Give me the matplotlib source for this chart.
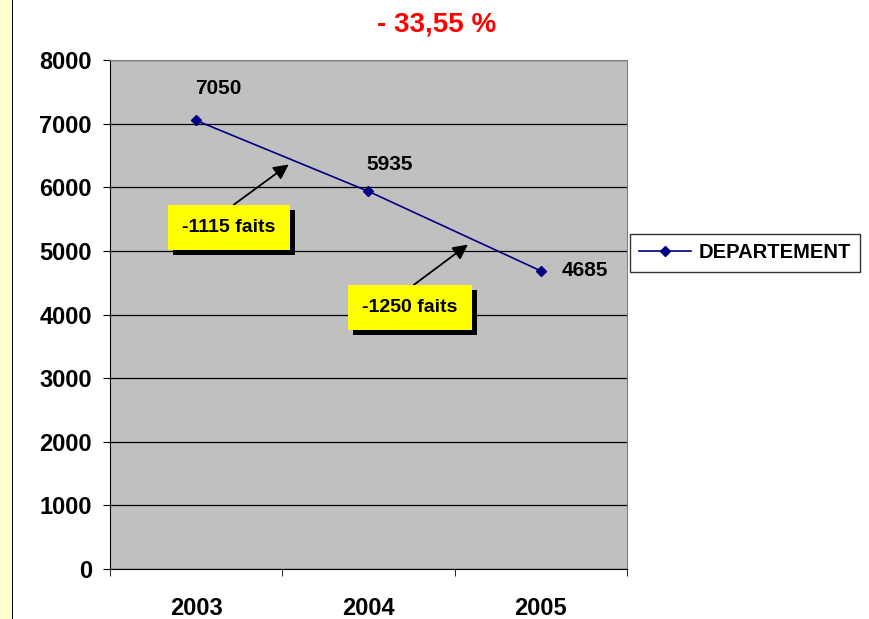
import matplotlib
matplotlib.use("Agg")
import matplotlib.pyplot as plt
import matplotlib.patheffects as pe
from matplotlib.patches import Rectangle

plt.rcParams['font.family'] = ['Liberation Sans', 'DejaVu Sans']

# data
years = ["2003", "2004", "2005"]
faits = [7050, 5935, 4685]
series_name = "DEPARTEMENT"
title = "- 33,55 %"
diff_labels = ["-1115 faits", "-1250 faits"]

fig = plt.figure(figsize=(8.7, 6.19), dpi=100)
ax = fig.add_axes([110/870, 50/619, 517/870, 509/619])
ax.set_facecolor("#C0C0C0")

# yellow strip on the left
fig.patches.append(Rectangle((0, 0), 12/870, 1, transform=fig.transFigure,
                             facecolor="#FFFFD0", edgecolor="none"))
fig.patches.append(Rectangle((12/870, 0), 1.5/870, 1, transform=fig.transFigure,
                             facecolor="black", edgecolor="none"))

x = list(range(len(years)))
ax.plot(x, faits, color="#000080", lw=1.2, marker="D", ms=5.5,
        markerfacecolor="#000080", markeredgecolor="#000080", label=series_name)

ax.set_xlim(-0.5, len(years) - 0.5)
ax.set_ylim(0, 8000)
ax.set_yticks(range(0, 8001, 1000))
ax.yaxis.grid(True, color="black", lw=0.9)
ax.set_axisbelow(True)

ax.set_xticks(x)
ax.set_xticklabels(years)
ax.set_xticks([i - 0.5 for i in range(len(years) + 1)], minor=True)
ax.tick_params(axis="x", which="major", length=0, pad=20, labelsize=17)
ax.tick_params(axis="x", which="minor", length=5, direction="out", color="black")
ax.tick_params(axis="y", length=5, direction="out", pad=8, labelsize=17)
for lab in ax.get_xticklabels() + ax.get_yticklabels():
    lab.set_fontweight("bold")

for side in ["top", "right"]:
    ax.spines[side].set_color("#808080")
for side in ["left", "bottom"]:
    ax.spines[side].set_color("black")

# value labels
offsets = [(16, 23), (15, 19), (32, 0)]
for xi, v, off in zip(x, faits, offsets):
    ax.annotate(str(v), (xi, v), xytext=off, textcoords="offset points",
                ha="center", va="center", fontsize=15, fontweight="bold")

# difference boxes with arrows
box_pos = [(0.19, 5369), (1.24, 4112)]
arrow_from = [(0.205, 5700), (1.25, 4440)]
arrow_to = [(0.55, 6384), (1.59, 5126)]
for lab, bp, af, at in zip(diff_labels, box_pos, arrow_from, arrow_to):
    ax.annotate("", xy=at, xytext=af,
                arrowprops=dict(arrowstyle="-|>,head_length=0.9,head_width=0.45",
                                color="black", lw=1.3))
    t = ax.text(bp[0], bp[1], lab, ha="center", va="center", fontsize=14,
                fontweight="bold", color="black",
                bbox=dict(boxstyle="square,pad=0.72", facecolor="#FFFF00", edgecolor="none"))
    t.get_bbox_patch().set_path_effects([
        pe.SimplePatchShadow(offset=(3.6, -3.6), shadow_rgbFace="black", alpha=1.0),
        pe.Normal()])

fig.text(437/870, 1 - 24/619, title, ha="center", va="center", color="#FF0000",
         fontsize=20, fontweight="bold")

leg = ax.legend(loc="center", bbox_to_anchor=(745/870, 1 - 253/619),
                bbox_transform=fig.transFigure, frameon=True, fancybox=False,
                handlelength=2.6, handletextpad=0.35, borderpad=0.45,
                borderaxespad=0, prop={"size": 14.5, "weight": "bold"})
leg.get_frame().set_edgecolor("black")
leg.get_frame().set_linewidth(1)

fig.savefig("out.png", dpi=100)
